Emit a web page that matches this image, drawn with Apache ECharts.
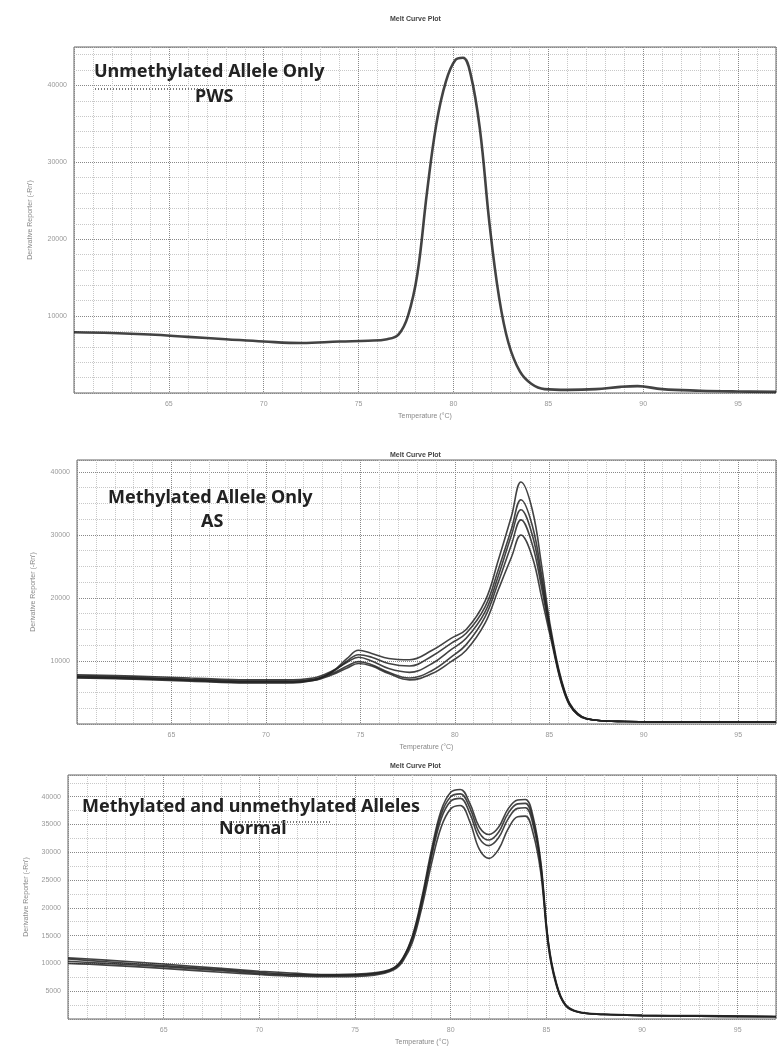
<!DOCTYPE html>
<html>
<head>
<meta charset="utf-8">
<script src="https://cdn.jsdelivr.net/npm/echarts@6/dist/echarts.min.js"></script>
<style>
html, body { margin: 0; padding: 0; background: #fff; }
#chart { width: 777px; height: 1047px; }
</style>
</head>
<body>
<div id="chart"></div>
<script>
// temperatures (°C) and derivative values (thousands)

// panel 1 - unmethylated allele only (PWS)
var pwsTemp = [60, 62, 64, 66, 68, 70, 72, 74, 75.5, 76.5, 77.1, 77.6, 78.1, 78.6, 79.1, 79.6, 80.1, 80.5, 80.9, 81.4, 81.9, 82.4, 82.9, 83.5, 84.1, 84.8, 86, 87.5, 88.8, 89.7, 91, 93, 95, 97];
var pwsVal = [7.9, 7.8, 7.6, 7.3, 7.0, 6.7, 6.5, 6.7, 6.8, 7.0, 7.6, 10.0, 15.5, 26.0, 35.0, 40.5, 43.3, 43.6, 41.5, 34.2, 22.0, 12.5, 6.5, 2.8, 1.2, 0.5, 0.4, 0.5, 0.8, 0.9, 0.5, 0.3, 0.2, 0.15];

// panel 2 - methylated allele only (AS), five wells
var asTemp = [60, 63, 66, 69, 71, 72.5, 73.5, 74.3, 74.9, 75.6, 76.5, 77.6, 78.8, 79.8, 80.6, 81.6, 82.3, 83.0, 83.5, 84.1, 84.6, 85.1, 85.8, 86.5, 87.5, 89, 92, 95, 97];
var asA = [7.3, 7.1, 6.8, 6.5, 6.5, 6.9, 8.3, 10.4, 11.7, 11.2, 10.4, 10.2, 11.7, 13.6, 15.0, 19.5, 26.0, 33.0, 38.4, 34.0, 25.0, 14.8, 5.4, 1.7, 0.6, 0.4, 0.3, 0.3, 0.3];
var asB = [7.5, 7.3, 7.0, 6.7, 6.7, 7.0, 8.2, 10.0, 11.0, 10.6, 9.6, 9.2, 10.8, 12.8, 14.4, 18.6, 24.5, 31.0, 35.6, 31.5, 23.5, 14.2, 5.2, 1.6, 0.6, 0.4, 0.3, 0.3, 0.3];
var asC = [7.8, 7.6, 7.3, 7.0, 7.0, 7.3, 8.4, 9.8, 10.6, 10.0, 8.8, 8.2, 9.6, 11.8, 13.6, 17.8, 23.5, 30.0, 34.0, 30.0, 22.5, 14.0, 5.2, 1.6, 0.6, 0.4, 0.3, 0.3, 0.3];
var asD = [7.6, 7.4, 7.1, 6.8, 6.8, 7.1, 8.0, 9.2, 9.9, 9.4, 8.2, 7.3, 8.5, 10.6, 12.6, 17.0, 22.5, 28.5, 32.4, 28.5, 21.5, 13.8, 5.0, 1.5, 0.6, 0.4, 0.3, 0.3, 0.3];
var asE = [7.4, 7.2, 6.9, 6.6, 6.6, 6.9, 7.8, 8.9, 9.6, 9.2, 8.0, 7.0, 8.0, 9.9, 11.7, 16.0, 21.3, 26.5, 30.0, 26.5, 20.0, 13.3, 4.9, 1.5, 0.6, 0.4, 0.3, 0.3, 0.3];

// panel 3 - methylated and unmethylated alleles (normal), four wells
var nTemp = [60, 62, 65, 68, 70, 72, 74, 76, 77.0, 77.5, 78.0, 78.5, 79.0, 79.5, 80.0, 80.5, 81.0, 81.5, 82.0, 82.5, 83.0, 83.5, 83.9, 84.3, 84.7, 85.1, 85.5, 86.0, 86.7, 88, 90, 93, 97];
var nA = [11.0, 10.6, 9.9, 9.1, 8.6, 8.2, 8.0, 8.3, 9.2, 11.0, 15.0, 22.0, 30.5, 37.5, 40.8, 41.3, 38.8, 34.5, 33.2, 34.5, 37.8, 39.4, 39.5, 36.5, 28.5, 14.0, 6.8, 2.6, 1.3, 0.9, 0.7, 0.6, 0.5];
var nB = [10.4, 10.0, 9.4, 8.7, 8.2, 7.9, 7.8, 8.1, 9.0, 10.7, 14.4, 21.0, 29.2, 36.0, 39.2, 39.7, 37.0, 32.5, 31.2, 32.6, 36.0, 37.9, 38.0, 35.0, 27.5, 13.5, 6.5, 2.5, 1.2, 0.8, 0.6, 0.5, 0.4];
var nC = [10.0, 9.7, 9.1, 8.4, 8.0, 7.7, 7.6, 7.9, 8.8, 10.4, 13.8, 20.2, 28.0, 34.5, 37.8, 38.4, 35.5, 30.5, 28.9, 30.5, 34.2, 36.4, 36.5, 33.5, 26.5, 13.0, 6.3, 2.4, 1.2, 0.8, 0.6, 0.5, 0.4];
var nD = [10.8, 10.3, 9.6, 8.9, 8.4, 8.0, 7.9, 8.2, 9.1, 10.9, 14.7, 21.5, 29.8, 36.8, 40.0, 40.5, 38.0, 33.5, 32.2, 33.6, 37.0, 38.7, 38.8, 35.8, 28.0, 13.8, 6.6, 2.5, 1.2, 0.8, 0.6, 0.5, 0.4];

var plotTitle = 'Melt Curve Plot';
var xName = 'Temperature (°C)';
var yName = "Derivative Reporter (-Rn')";

function pairs(t, v) {
    return t.map(function (x, i) { return [x, v[i] * 1000]; });
}

var chart = echarts.init(document.getElementById('chart'));

var grids = [
    {left: 74, top: 47, right: 1, height: 346},
    {left: 77, top: 460, right: 1, height: 264},
    {left: 68, top: 775, right: 1, height: 246}
];
var yMax = [45000, 41900, 43900];
var yInterval = [10000, 10000, 5000];
var yMinor = [5, 4, 2];
var titleTops = [11, 447, 758];

var xAxes = [], yAxes = [];
grids.forEach(function (g, i) {
    g.show = true;
    g.borderColor = '#666';
    g.borderWidth = 1;
    xAxes.push({
        gridIndex: i, type: 'value', min: 60, max: 97, interval: 5,
        name: xName, nameLocation: 'middle', nameGap: 20,
        nameTextStyle: {fontSize: 7, color: '#888'},
        axisLine: {show: false}, axisTick: {show: false},
        axisLabel: {fontSize: 7, color: '#999', margin: 8, showMinLabel: false, showMaxLabel: false},
        splitLine: {show: true, lineStyle: {type: 'dotted', color: '#888'}},
        minorTick: {show: false, splitNumber: 5},
        minorSplitLine: {show: true, lineStyle: {type: 'dotted', color: '#c8c8c8'}}
    });
    yAxes.push({
        gridIndex: i, type: 'value', min: 0, max: yMax[i], interval: yInterval[i],
        name: yName, nameLocation: 'middle', nameGap: i === 2 ? 38 : 40,
        nameTextStyle: {fontSize: 7, color: '#888'},
        axisLine: {show: false}, axisTick: {show: false},
        axisLabel: {fontSize: 7, color: '#999', margin: 7, showMinLabel: false, showMaxLabel: false,
            formatter: function (v) { return String(v); }},
        splitLine: {show: true, lineStyle: {type: 'dotted', color: '#888'}},
        minorTick: {show: false, splitNumber: yMinor[i]},
        minorSplitLine: {show: true, lineStyle: {type: 'dotted', color: '#c8c8c8'}}
    });
});

function curve(idx, t, v, w) {
    return {
        type: 'line', xAxisIndex: idx, yAxisIndex: idx,
        data: pairs(t, v), smooth: 0.4, showSymbol: false,
        lineStyle: {color: '#222', width: w, opacity: 0.85}
    };
}

var series = [
    curve(0, pwsTemp, pwsVal, 2.6),
    curve(1, asTemp, asA, 1.6), curve(1, asTemp, asB, 1.6), curve(1, asTemp, asC, 1.6),
    curve(1, asTemp, asD, 1.6), curve(1, asTemp, asE, 1.6),
    curve(2, nTemp, nA, 1.6), curve(2, nTemp, nB, 1.6), curve(2, nTemp, nC, 1.6), curve(2, nTemp, nD, 1.6)
];

var labelFont = 'bold 18px "Noto Sans", sans-serif';
function note(x, y, text) {
    return {type: 'text', left: x, top: y, z: 100,
        style: {text: text, font: labelFont, fill: '#222'}};
}
function squiggle(x1, x2, y) {
    return {type: 'line', z: 100, shape: {x1: x1, y1: y, x2: x2, y2: y},
        style: {stroke: '#777', lineWidth: 2, lineDash: [1, 2]}};
}

chart.setOption({
    animation: false,
    backgroundColor: '#fff',
    title: titleTops.map(function (tp) {
        return {text: plotTitle, left: 385, top: tp,
            textStyle: {fontSize: 7, fontWeight: 'bold', color: '#444'}};
    }),
    grid: grids,
    xAxis: xAxes,
    yAxis: yAxes,
    series: series,
    graphic: [
        note(94, 63, 'Unmethylated Allele Only'),
        note(195, 88, 'PWS'),
        squiggle(95, 208, 89),
        note(108, 489, 'Methylated Allele Only'),
        note(201, 513, 'AS'),
        note(82, 798, 'Methylated and unmethylated Alleles'),
        note(219, 820, 'Normal'),
        squiggle(230, 330, 822)
    ]
});
</script>
</body>
</html>
